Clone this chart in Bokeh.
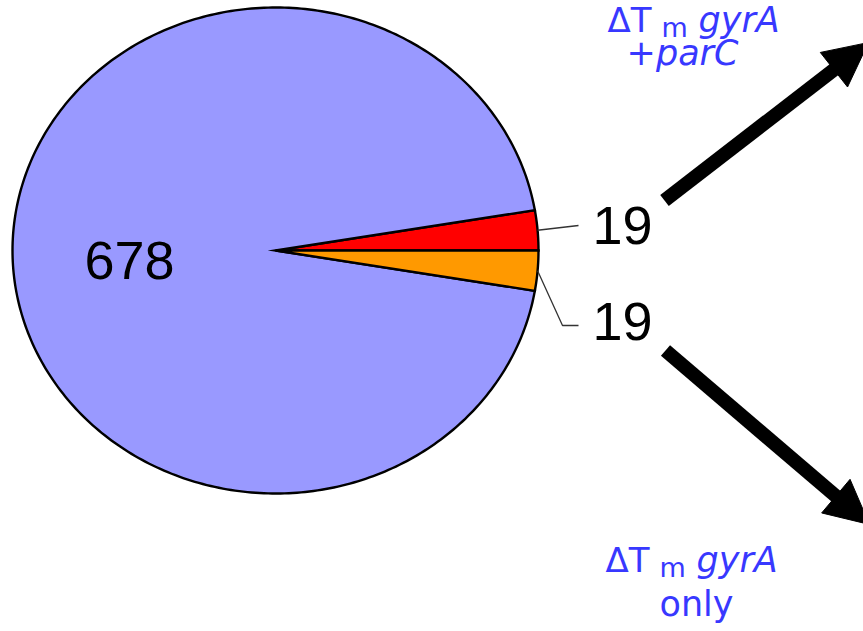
import math
from bokeh.plotting import figure
from bokeh.models import Range1d, Label, Arrow, NormalHead
from bokeh.embed import file_html
from bokeh.resources import INLINE

# ---- data ----
categories = ["ΔTm gyrA +parC", "other", "ΔTm gyrA only"]
values = [19, 678, 19]
colors = ["#ff0000", "#9999ff", "#ff9900"]
value_labels = ["19", "678", "19"]

W, H = 863, 631
p = figure(width=W, height=H, output_backend="svg", toolbar_location=None,
           x_range=Range1d(0, W), y_range=Range1d(H, 0), min_border=0)
p.axis.visible = False
p.grid.visible = False
p.outline_line_color = None
p.background_fill_color = "white"
p.border_fill_color = "white"

# pie geometry (style)
cx, cy, rx, ry = 275, 250, 263, 243

total = float(sum(values))
start = 0.0
mids = []
for v, c in zip(values, colors):
    ang = v / total * 2 * math.pi
    n = max(4, int(ang / (2 * math.pi) * 400))
    ts = [start + ang * i / n for i in range(n + 1)]
    xs = [cx] + [cx + rx * math.cos(t) for t in ts] + [cx]
    ys = [cy] + [cy - ry * math.sin(t) for t in ts] + [cy]
    p.patch(xs, ys, fill_color=c, line_color="black", line_width=2.4, line_join="miter")
    mids.append(start + ang / 2)
    start += ang

font = "Liberation Sans"

def lab(x, base, text, size, **kw):
    # place text so that its baseline lands at `base`
    p.add_layout(Label(x=x, y=base - 0.4 * size, text=text, text_font_size=f"{size}px",
                       text_baseline="alphabetic", **kw))

# 678 label inside
lab(84, 282, value_labels[1], 54, text_font=font, text_color="black")

# leader lines for small slices
t_up = mids[0]
t_dn = mids[2]
x0u, y0u = cx + rx * math.cos(t_up), cy - ry * math.sin(t_up)
x0d, y0d = cx + rx * math.cos(t_dn), cy - ry * math.sin(t_dn)
p.line([x0u, 578], [y0u, 225], line_color="#333333", line_width=1.3)
p.line([x0d, 562, 578], [y0d, 325, 325], line_color="#333333", line_width=1.3)
lab(592, 247, value_labels[0], 54, text_font=font, text_color="black")
lab(592, 343, value_labels[2], 54, text_font=font, text_color="black")

# arrows
for (sx, sy, bx, by, tx, ty) in [(664, 200, 835, 68, 868, 42), (665, 350, 837, 497, 869, 524)]:
    p.line([sx, bx], [sy, by], line_color="black", line_width=14, line_cap="butt")
    p.add_layout(Arrow(x_start=bx, y_start=by, x_end=tx, y_end=ty, line_alpha=0,
                       end=NormalHead(size=44, fill_color="black", line_color="black", line_width=1)))

blue = "#3838ff"
bfont = "DejaVu Sans"

def delta_label(x0, base):
    lab(x0, base, "ΔT", 34, text_font=bfont, text_color=blue)
    lab(x0 + 54, base + 5, "m", 27, text_font=bfont, text_color=blue)
    lab(x0 + 91, base, "gyrA", 35, text_font=bfont, text_font_style="italic", text_color=blue)

# top label
delta_label(607, 33)
lab(682, 66, "+parC", 35, text_font=bfont, text_font_style="italic", text_color=blue,
    text_align="center")
# bottom label
delta_label(605, 573)
lab(696, 617, "only", 35, text_font=bfont, text_color=blue, text_align="center")

open("out.html", "w").write(file_html(p, INLINE))
